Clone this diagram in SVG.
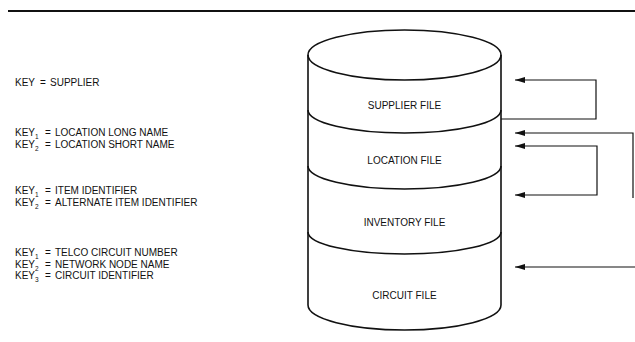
<svg xmlns="http://www.w3.org/2000/svg" width="635" height="342" viewBox="0 0 635 342">
  <style>
    .t { font-family: "Liberation Sans", Arial, sans-serif; font-size: 10px; fill: #111; }
    .c { font-family: "Liberation Sans", Arial, sans-serif; font-size: 10px; fill: #111; text-anchor: middle; }
    .sub { font-size: 6.5px; }
    .shape { fill: none; stroke: #111; stroke-width: 1.6; }
    .conn { fill: none; stroke: #111; stroke-width: 1.2; }
  </style>
  <defs>
    <marker id="ah" viewBox="0 0 10 6" refX="10" refY="3" markerWidth="10" markerHeight="6" markerUnits="userSpaceOnUse" orient="auto-start-reverse">
      <path d="M10,3 L0,0 L0,6 Z" fill="#111"/>
    </marker>
  </defs>
  <rect width="635" height="342" fill="#fff"/>
  <line x1="8" y1="11" x2="635" y2="11" stroke="#111" stroke-width="2"/>

  <g id="keys">
    <text class="t" x="15" y="86">KEY<tspan x="40">=</tspan><tspan x="50">SUPPLIER</tspan></text>
    <text class="t" x="15" y="136">KEY<tspan class="sub" dy="3">1</tspan><tspan x="45" dy="-3">=</tspan><tspan x="55">LOCATION LONG NAME</tspan></text>
    <text class="t" x="15" y="148">KEY<tspan class="sub" dy="3">2</tspan><tspan x="45" dy="-3">=</tspan><tspan x="55">LOCATION SHORT NAME</tspan></text>
    <text class="t" x="15" y="194">KEY<tspan class="sub" dy="3">1</tspan><tspan x="45" dy="-3">=</tspan><tspan x="55">ITEM IDENTIFIER</tspan></text>
    <text class="t" x="15" y="206">KEY<tspan class="sub" dy="3">2</tspan><tspan x="45" dy="-3">=</tspan><tspan x="55">ALTERNATE ITEM IDENTIFIER</tspan></text>
    <text class="t" x="15" y="256">KEY<tspan class="sub" dy="3">1</tspan><tspan x="45" dy="-3">=</tspan><tspan x="55">TELCO CIRCUIT NUMBER</tspan></text>
    <text class="t" x="15" y="268">KEY<tspan class="sub" dy="3">2</tspan><tspan x="45" dy="-3">=</tspan><tspan x="55">NETWORK NODE NAME</tspan></text>
    <text class="t" x="15" y="279">KEY<tspan class="sub" dy="3">3</tspan><tspan x="45" dy="-3">=</tspan><tspan x="55">CIRCUIT IDENTIFIER</tspan></text>
  </g>

  <g id="cylinder">
    <ellipse class="shape" cx="404.5" cy="55" rx="96.5" ry="25"/>
    <path class="shape" d="M308,55 V305 A96.5,25 0 0 0 501,305 V55"/>
  </g>
  <g id="supplier-file">
    <path class="shape" d="M308,110 A96.5,23 0 0 0 501,110"/>
    <text class="c" x="404.5" y="109">SUPPLIER FILE</text>
  </g>
  <g id="location-file">
    <path class="shape" d="M308,166 A96.5,23 0 0 0 501,166"/>
    <text class="c" x="404.5" y="164">LOCATION FILE</text>
  </g>
  <g id="inventory-file">
    <path class="shape" d="M308,232 A96.5,22 0 0 0 501,232"/>
    <text class="c" x="404.5" y="226">INVENTORY FILE</text>
  </g>
  <g id="circuit-file">
    <text class="c" x="404.5" y="299">CIRCUIT FILE</text>
  </g>

  <g id="connectors">
    <path class="conn" d="M501,119 H596 V80 H515" marker-end="url(#ah)"/>
    <path class="conn" d="M633,198 V133 H515" marker-end="url(#ah)"/>
    <path class="conn" d="M515,146 H597 V195 H515" marker-start="url(#ah)" marker-end="url(#ah)"/>
    <path class="conn" d="M635,267 H515" marker-end="url(#ah)"/>
  </g>
</svg>
